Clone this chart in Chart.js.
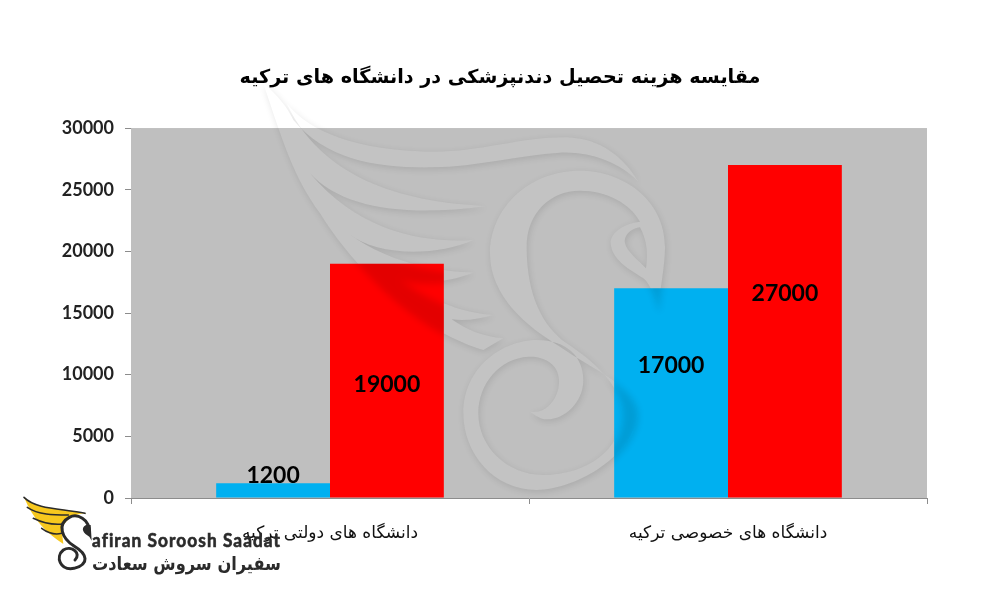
<!DOCTYPE html>
<html lang="fa">
<head>
<meta charset="utf-8">
<title>مقایسه هزینه تحصیل دندانپزشکی</title>
<script src="https://cdn.jsdelivr.net/npm/chart.js@4"></script>
<style>
  html, body { margin: 0; padding: 0; background: #fff; }
  canvas { display: block; }
</style>
</head>
<body>
<canvas id="costChart" width="1000" height="600"></canvas>
<script>
const chartTitle = 'مقایسه هزینه تحصیل دندنپزشکی در دانشگاه های ترکیه';
const categories = ['دانشگاه های دولتی ترکیه', 'دانشگاه های خصوصی ترکیه'];
const seriesBlue = [1200, 17000];
const seriesRed = [19000, 27000];
const yTicks = [0, 5000, 10000, 15000, 20000, 25000, 30000];

// label offset from the top of each bar, px
const blueLabelShift = [-8, 77];
const redLabelShift = [121, 129];

const persianFont = '"DejaVu Sans", "Noto Sans", sans-serif';
const numberFont = 'Lato, "Open Sans", sans-serif';

// swan outline, traced in 3x crop coordinates
const wingPath = 'M10,-50 C70,130 100,230 180,340 C260,470 400,620 550,700 C590,720 630,740 670,750 L730,715 '
  + 'C670,710 620,690 575,658 C620,665 660,655 700,645 C620,640 520,610 420,535 C490,555 570,545 640,518 '
  + 'C560,515 400,500 265,400 C350,470 530,470 640,420 C500,430 300,400 150,220 C250,330 450,350 680,318 '
  + 'C500,310 200,270 80,10 C150,100 300,150 500,155 C650,160 780,110 920,112 C1020,115 1090,170 1135,245 '
  + 'C1080,190 1000,155 900,158 C780,165 650,200 520,202 C350,205 200,180 100,60 C90,40 70,0 10,-50 Z';
const bodyPath = 'M1195,635 C1200,560 1215,500 1215,440 C1215,300 1090,212 960,212 C800,212 690,330 690,460 '
  + 'C690,590 800,680 900,740 C1000,810 1130,860 1132,940 C1130,1060 950,1170 830,1170 C700,1170 610,1060 610,940 '
  + 'C610,800 730,720 830,720 C920,720 970,770 970,840 C970,910 910,960 860,958 C840,958 825,945 810,935 '
  + 'C860,945 900,890 897,840 C895,790 850,768 805,770 C720,775 655,850 655,940 C655,1040 740,1125 850,1125 '
  + 'C980,1125 1085,1050 1085,940 C1085,860 1010,790 920,730 C850,680 800,590 800,440 C800,340 870,272 960,272 '
  + 'C1040,272 1110,310 1140,365 C1090,370 1050,400 1052,430 C1055,480 1110,510 1150,535 C1175,555 1185,600 1195,635 Z '
  + 'M1140,382 C1110,385 1090,410 1095,430 C1100,455 1135,480 1158,505 C1165,460 1160,420 1140,382 Z';

const swan = new Path2D();
const swanMatrix = new DOMMatrix([1 / 3, 0, 0, 1 / 3, 260, 100]);
swan.addPath(new Path2D(wingPath), swanMatrix);
swan.addPath(new Path2D(bodyPath), swanMatrix);

const outsideSwan = new Path2D();
outsideSwan.rect(0, 0, 1000, 600);
outsideSwan.addPath(swan);

function swanShadow(ctx, alpha) {
  // shape drawn off canvas so only its soft shadow lands on the page
  ctx.save();
  ctx.shadowColor = `rgba(0,0,0,${alpha})`;
  ctx.shadowBlur = 7;
  ctx.shadowOffsetX = 2001;
  ctx.shadowOffsetY = 2;
  ctx.translate(-2000, 0);
  ctx.fillStyle = '#000';
  ctx.fill(swan, 'evenodd');
  ctx.restore();
}

const plotBackground = {
  id: 'plotBackground',
  beforeDatasetsDraw(chart) {
    const { ctx, chartArea: a } = chart;
    ctx.save();
    ctx.fillStyle = '#bfbfbf';
    ctx.fillRect(a.left, a.top, a.right - a.left, a.bottom - a.top);
    ctx.beginPath();
    ctx.rect(a.left, a.top, a.right - a.left, a.bottom - a.top);
    ctx.clip();
    ctx.fillStyle = '#c3c3c3';
    ctx.fill(swan, 'evenodd');
    ctx.restore();
  },
};

const watermarkShadow = {
  id: 'watermarkShadow',
  afterDatasetsDraw(chart) {
    const { ctx } = chart;
    ctx.save();
    ctx.clip(outsideSwan, 'evenodd');
    swanShadow(ctx, 0.11);
    ctx.restore();
    // inside the shape the shadow only shows on the bars
    chart.data.datasets.forEach((ds, d) => {
      chart.getDatasetMeta(d).data.forEach((bar) => {
        ctx.save();
        ctx.beginPath();
        ctx.rect(bar.x - bar.width / 2, bar.y, bar.width, bar.base - bar.y);
        ctx.clip();
        ctx.clip(swan, 'evenodd');
        swanShadow(ctx, 0.11);
        ctx.restore();
      });
    });
  },
};

const barLabels = {
  id: 'barLabels',
  afterDatasetsDraw(chart) {
    const { ctx } = chart;
    const shifts = [blueLabelShift, redLabelShift];
    ctx.save();
    ctx.font = `bold 23px ${numberFont}`;
    ctx.fillStyle = '#000';
    ctx.textAlign = 'center';
    ctx.textBaseline = 'middle';
    chart.data.datasets.forEach((ds, d) => {
      chart.getDatasetMeta(d).data.forEach((bar, i) => {
        ctx.fillText(String(ds.data[i]), bar.x, bar.y + shifts[d][i]);
      });
    });
    ctx.restore();
  },
};

function crop3x(path) {
  const p = new Path2D();
  p.addPath(new Path2D(path), new DOMMatrix([1 / 3, 0, 0, 1 / 3, 0, 470]));
  return p;
}

// company logo, bottom left, sits over the first axis label
const logo = {
  id: 'logo',
  afterDraw(chart) {
    const { ctx } = chart;
    ctx.save();
    ctx.lineCap = 'round';
    ctx.fillStyle = '#f7c81e';
    ctx.fill(crop3x('M72,82 C110,120 190,115 260,130 C220,130 195,150 185,180 L190,222 C140,190 100,150 72,82 Z'));
    ctx.strokeStyle = '#2b2b2b';
    ctx.lineWidth = 1.6;
    ctx.stroke(crop3x('M72,82 C110,120 190,115 255,130 M82,112 C115,135 160,135 205,135 M100,145 C130,160 160,165 190,162 M125,175 C145,190 165,195 185,190'));
    ctx.lineWidth = 3;
    ctx.stroke(crop3x('M268,190 C270,145 230,130 208,142 C170,162 185,205 222,228 C262,252 270,282 222,295 C180,302 165,260 190,240 C215,225 245,250 225,270'));
    ctx.fillStyle = '#2b2b2b';
    ctx.fill(crop3x('M258,165 C240,175 250,190 268,200 L275,212 L272,165 Z'));
    ctx.textAlign = 'left';
    ctx.textBaseline = 'middle';
    ctx.font = `bold 18px ${numberFont}`;
    ctx.letterSpacing = '1.1px';
    ctx.lineWidth = 0.6;
    ctx.fillText('afiran Soroosh Saadat', 92, 541, 189);
    ctx.strokeText('afiran Soroosh Saadat', 92, 541, 189);
    ctx.letterSpacing = '0px';
    ctx.direction = 'rtl';
    ctx.textAlign = 'right';
    ctx.font = `bold 19px ${persianFont}`;
    ctx.fillText('سفیران سروش سعادت', 281, 565, 189);
    ctx.restore();
  },
};

new Chart(document.getElementById('costChart'), {
  type: 'bar',
  data: {
    labels: categories,
    datasets: [
      { data: seriesBlue, backgroundColor: '#00b0f0' },
      { data: seriesRed, backgroundColor: '#ff0000' },
    ],
  },
  options: {
    responsive: false,
    animation: false,
    layout: { padding: 0 },
    datasets: { bar: { categoryPercentage: 0.572, barPercentage: 1 } },
    plugins: {
      legend: { display: false },
      tooltip: { enabled: false },
      title: {
        display: true,
        text: chartTitle,
        color: '#000',
        font: { family: persianFont, size: 19.2, weight: 'bold' },
        padding: { top: 66, bottom: 39 },
      },
    },
    scales: {
      x: {
        afterFit(scale) { scale.height = 102; },
        border: { color: '#8c8c8c' },
        grid: { drawOnChartArea: false, tickLength: 6, color: '#8c8c8c' },
        ticks: { color: '#111', padding: 19, font: { family: persianFont, size: 17 } },
      },
      y: {
        min: 0,
        max: 30000,
        afterFit(scale) { scale.width = 131; },
        afterBuildTicks(scale) { scale.ticks = yTicks.map((value) => ({ value })); },
        border: { color: '#8c8c8c' },
        grid: { drawOnChartArea: false, tickLength: 6, color: '#8c8c8c' },
        ticks: {
          color: '#222',
          padding: 11,
          font: { family: numberFont, size: 18, weight: 'bold' },
          callback: (v) => String(v),
        },
      },
      // empty axis, only keeps the right margin
      spacer: {
        position: 'right',
        afterFit(scale) { scale.width = 73; },
        border: { display: false },
        grid: { display: false },
        ticks: { display: false },
      },
    },
  },
  plugins: [plotBackground, watermarkShadow, barLabels, logo],
});
</script>
</body>
</html>
